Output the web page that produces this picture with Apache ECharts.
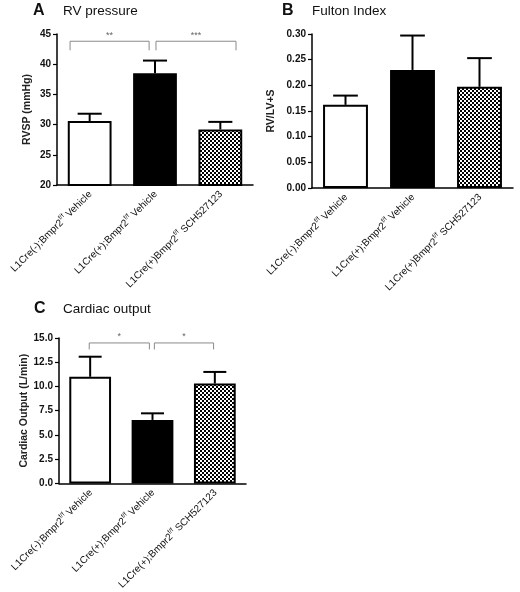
<!DOCTYPE html>
<html><head><meta charset="utf-8">
<script src="https://cdn.jsdelivr.net/npm/echarts@6/dist/echarts.min.js"></script>
<style>html,body{margin:0;padding:0;background:#fff}#c{width:520px;height:592px}</style>
</head><body><div id="c"></div>
<script>
// ---- data ----
const catsA = ['L1Cre(-);Bmpr2^{f/f} Vehicle', 'L1Cre(+);Bmpr2^{f/f} Vehicle', 'L1Cre(+)Bmpr2^{f/f} SCH527123'];
const catsB = ['L1Cre(-);Bmpr2^{f/f} Vehicle', 'L1Cre(+);Bmpr2^{f/f} Vehicle', 'L1Cre(+)Bmpr2^{f/f} SCH527123'];
const catsC = ['L1Cre(-);Bmpr2^{f/f} Vehicle', 'L1Cre(+);Bmpr2^{f/f} Vehicle', 'L1Cre(+);Bmpr2^{f/f} SCH527123'];

const rvspMean = [30.6, 38.5, 29.2];
const rvspSem = [1.2, 2.1, 1.25];
const fultonMean = [0.162, 0.230, 0.197];
const fultonSem = [0.018, 0.067, 0.056];
const coMean = [11.0, 6.55, 10.3];
const coSem = [2.07, 0.68, 1.2];

const rvspTicks = [20, 25, 30, 35, 40, 45];
const fultonTicks = [0, 0.05, 0.10, 0.15, 0.20, 0.25, 0.30];
const coTicks = [0, 2.5, 5, 7.5, 10, 12.5, 15];

const sigA = [[0, 1, '**'], [1, 2, '***']];
const sigC = [[0, 1, '*'], [1, 2, '*']];

const titles = [['A', 'RV pressure'], ['B', 'Fulton Index'], ['C', 'Cardiac output']];
const yNames = ['RVSP (mmHg)', 'RV/LV+S', 'Cardiac Output (L/min)'];

// ---- layout / style ----
const FONT = 'Liberation Sans, Arial, sans-serif';
const panels = [
  { grid: { left: 57, top: 34, width: 196, height: 151 }, cats: catsA, mean: rvspMean, sem: rvspSem, ticks: rvspTicks, dec: 0, gap: 24,
    sig: sigA, brk: { top: 43.8, leg: 42.3, off: [[-0.30, -0.09], [0.015, 0.24]] },
    title: { lx: 33, tx: 63, y: 3 } },
  { grid: { left: 312, top: 34, width: 201, height: 154 }, cats: catsB, mean: fultonMean, sem: fultonSem, ticks: fultonTicks, dec: 2, gap: 35,
    sig: [], brk: null, title: { lx: 282, tx: 312, y: 3 } },
  { grid: { left: 59, top: 338, width: 187, height: 147 }, cats: catsC, mean: coMean, sem: coSem, ticks: coTicks, dec: 1, gap: 24,
    sig: sigC, brk: { top: 14.49, leg: 13.82, off: [[-0.015, -0.05], [0.03, -0.02]] },
    title: { lx: 34, tx: 63, y: 301 } }
];

function hatch() {
  const c = document.createElement('canvas');
  c.width = 4; c.height = 4;
  const g = c.getContext('2d');
  g.fillStyle = '#000'; g.fillRect(0, 0, 4, 4);
  g.fillStyle = '#fff';
  g.fillRect(0, 0, 2, 2);
  g.fillRect(2, 2, 2, 2);
  return c;
}
const hatchPattern = { image: hatch(), repeat: 'repeat' };
const barFills = ['#fff', '#000', hatchPattern];

function fmtCat(v) {
  const m = v.match(/^(.*)\^\{([^}]*)\}(.*)$/);
  if (!m) return '{n|' + v + '}';
  return '{n|' + m[1] + '}{s|' + m[2] + '}{n|' + m[3] + '}';
}

const chart = echarts.init(document.getElementById('c'));
const option = {
  backgroundColor: '#fff',
  animation: false,
  title: [], grid: [], xAxis: [], yAxis: [], series: []
};

panels.forEach((p, k) => {
  option.title.push({ text: titles[k][0], left: p.title.lx, top: p.title.y, padding: 0,
    textStyle: { fontFamily: FONT, fontSize: 16, fontWeight: 'bold', color: '#111' } });
  option.title.push({ text: titles[k][1], left: p.title.tx, top: p.title.y + 1, padding: 0,
    textStyle: { fontFamily: FONT, fontSize: 13.5, fontWeight: 'normal', color: '#111' } });
  option.grid.push(Object.assign({ containLabel: false }, p.grid));
  option.xAxis.push({
    type: 'category', gridIndex: k, data: p.cats,
    axisLine: { lineStyle: { color: '#000', width: 1.5 } },
    axisTick: { alignWithLabel: true, length: 4, lineStyle: { color: '#000', width: 1.2 } },
    axisLabel: { interval: 0, rotate: 45, margin: 7, color: '#111', formatter: fmtCat,
      rich: {
        n: { fontFamily: FONT, fontSize: 10, color: '#111', lineHeight: 12, verticalAlign: 'bottom' },
        s: { fontFamily: FONT, fontSize: 6.5, color: '#111', lineHeight: 12, verticalAlign: 'top' }
      } }
  });
  const t = p.ticks;
  option.yAxis.push({
    type: 'value', gridIndex: k, min: t[0], max: t[t.length - 1], interval: t[1] - t[0],
    name: yNames[k], nameLocation: 'middle', nameGap: p.gap,
    nameTextStyle: { fontFamily: FONT, fontSize: 10.5, fontWeight: 'bold', color: '#222' },
    splitLine: { show: false },
    axisLine: { show: true, lineStyle: { color: '#000', width: 1.5 } },
    axisTick: { show: true, length: 4, lineStyle: { color: '#000', width: 1.2 } },
    axisLabel: { margin: 6, fontFamily: FONT, fontSize: 10, fontWeight: 'bold', color: '#111',
      formatter: v => v.toFixed(p.dec) }
  });
  option.series.push({
    type: 'bar', xAxisIndex: k, yAxisIndex: k, barCategoryGap: '33%',
    data: p.mean.map((m, i) => ({ value: m, itemStyle: { color: barFills[i] } })),
    itemStyle: { borderColor: '#000', borderWidth: 2 }
  });
  option.series.push({
    type: 'custom', xAxisIndex: k, yAxisIndex: k, z: 3,
    data: p.mean.map((m, i) => [i, m, m + p.sem[i]]),
    renderItem: (params, api) => {
      const a = api.coord([api.value(0), api.value(1)]);
      const b = api.coord([api.value(0), api.value(2)]);
      const bw = api.size([1, 0])[0] * 0.67;
      const cw = bw * 0.55;
      const st = { stroke: '#000', lineWidth: 2 };
      return { type: 'group', children: [
        { type: 'line', shape: { x1: a[0], y1: a[1], x2: b[0], y2: b[1] }, style: st },
        { type: 'line', shape: { x1: b[0] - cw / 2, y1: b[1], x2: b[0] + cw / 2, y2: b[1] }, style: st }
      ] };
    }
  });
  if (p.brk) {
    option.series.push({
      type: 'custom', xAxisIndex: k, yAxisIndex: k, z: 4,
      data: p.sig.map(s => [s[0], s[1]]),
      renderItem: (params, api) => {
        const s = p.sig[params.dataIndex];
        const off = p.brk.off[params.dataIndex];
        const band = api.size([1, 0])[0];
        const l = api.coord([s[0], p.brk.top]);
        const r = api.coord([s[1], p.brk.top]);
        const legY = api.coord([s[0], p.brk.leg])[1];
        const x1 = l[0] + off[0] * band, x2 = r[0] + off[1] * band, y = l[1];
        const st = { stroke: '#8a8a8a', lineWidth: 1, fill: null };
        return { type: 'group', children: [
          { type: 'polyline', shape: { points: [[x1, legY], [x1, y], [x2, y], [x2, legY]] }, style: st },
          { type: 'text', style: { text: s[2], x: (x1 + x2) / 2, y: y - 6, align: 'center', verticalAlign: 'middle',
            font: '9px ' + FONT, fill: '#666' } }
        ] };
      }
    });
  }
});

chart.setOption(option);
</script>
</body></html>
